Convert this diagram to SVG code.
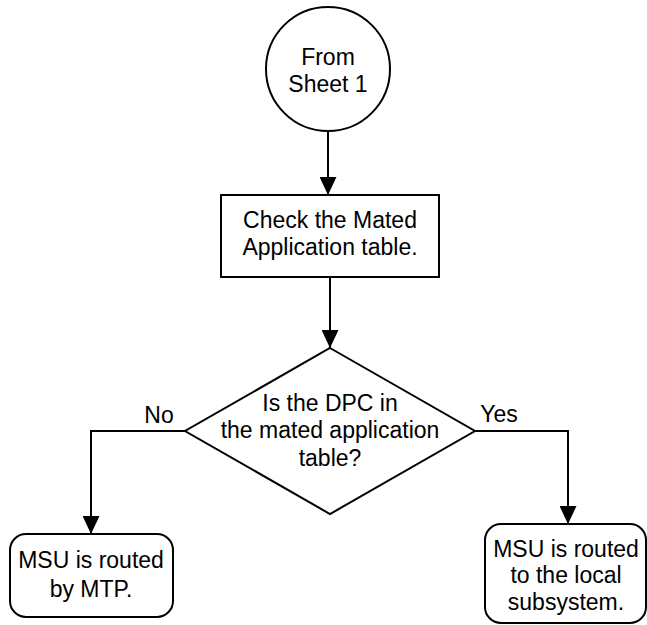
<svg xmlns="http://www.w3.org/2000/svg" width="647" height="625" viewBox="0 0 647 625">
<style>
.s{fill:#fff;stroke:#000;stroke-width:2}
.c{fill:none;stroke:#000;stroke-width:2}
text{font-family:"Liberation Sans",Arial,sans-serif;font-size:23px;fill:#000;text-anchor:middle}
</style>
<defs>
<marker id="ah" markerUnits="userSpaceOnUse" markerWidth="18" markerHeight="17" refX="18" refY="8.5" orient="auto">
<path d="M0,0 L18,8.5 L0,17 z" fill="#000"/>
</marker>
</defs>
<g id="start">
<circle class="s" cx="328" cy="69" r="62"/>
<text x="328" y="65">From</text>
<text x="328" y="92">Sheet 1</text>
</g>
<g id="check">
<rect class="s" x="221" y="195" width="218" height="82"/>
<text x="330" y="228">Check the Mated</text>
<text x="330" y="255">Application table.</text>
</g>
<g id="decision">
<polygon class="s" points="330,348 475,431 330,514 185,431"/>
<text x="330" y="411">Is the DPC in</text>
<text x="330" y="438">the mated application</text>
<text x="330" y="466">table?</text>
</g>
<g id="mtp">
<rect class="s" x="10" y="534" width="163" height="83" rx="16"/>
<text x="91" y="568">MSU is routed</text>
<text x="91" y="597">by MTP.</text>
</g>
<g id="local">
<rect class="s" x="485" y="524" width="161" height="99" rx="16"/>
<text x="566" y="557">MSU is routed</text>
<text x="566" y="583">to the local</text>
<text x="566" y="610">subsystem.</text>
</g>
<g id="connectors">
<line class="c" x1="328" y1="131" x2="328" y2="195" marker-end="url(#ah)"/>
<line class="c" x1="330" y1="277" x2="330" y2="348" marker-end="url(#ah)"/>
<polyline class="c" points="185,431 91,431 91,534" marker-end="url(#ah)"/>
<polyline class="c" points="475,431 568,431 568,524" marker-end="url(#ah)"/>
<text x="159" y="423">No</text>
<text x="499" y="422">Yes</text>
</g>
</svg>
